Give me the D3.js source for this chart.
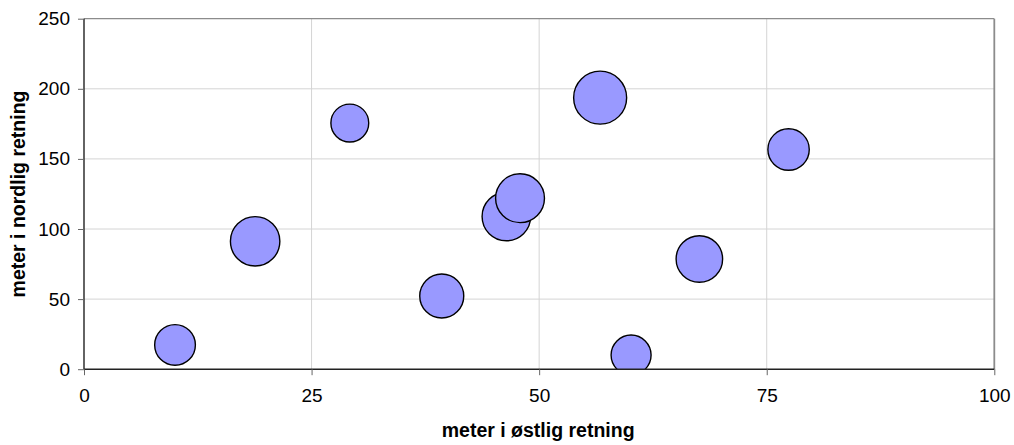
<!DOCTYPE html>
<html>
<head>
<meta charset="utf-8">
<script src="https://cdn.jsdelivr.net/npm/d3@7"></script>
<style>
  html, body { margin: 0; padding: 0; background: #fff; }
  svg { display: block; font-family: "Liberation Sans", Arial, sans-serif; }
</style>
</head>
<body>
<svg id="chart" width="1014" height="445"></svg>
<script>
// Positions in metres east / north, and bubble sizes
const east  = [10.0, 18.8, 29.2, 39.3, 46.4, 47.9, 56.7, 60.1, 67.6, 77.4];
const north = [17.3, 91.2, 175.6, 52.2, 108.9, 122.0, 193.7, 10.1, 78.6, 156.7];
const sizes = [59, 87, 51, 69, 84, 85, 100, 57, 77, 61];

const xTicks = [0, 25, 50, 75, 100];
const yTicks = [0, 50, 100, 150, 200, 250];
const xTitle = "meter i østlig retning";
const yTitle = "meter i nordlig retning";

const svg = d3.select("#chart");
const plotLeft = 84, plotRight = 994.3, plotTop = 18.7, plotBottom = 369.2;

const x = d3.scaleLinear().domain([0, 100]).range([plotLeft, plotRight]);
const y = d3.scaleLinear().domain([0, 250]).range([plotBottom, plotTop]);
const r = d3.scaleSqrt().domain([0, 100]).range([0, 26.5]);

// gridlines
svg.append("g").selectAll("line").data(yTicks.slice(1, -1)).join("line")
  .attr("x1", plotLeft).attr("x2", plotRight)
  .attr("y1", d => y(d)).attr("y2", d => y(d))
  .attr("stroke", "#d4d4d4").attr("stroke-width", 1);
svg.append("g").selectAll("line").data(xTicks.slice(1, -1)).join("line")
  .attr("y1", plotTop).attr("y2", plotBottom)
  .attr("x1", d => x(d)).attr("x2", d => x(d))
  .attr("stroke", "#d4d4d4").attr("stroke-width", 1);

// plot frame: top and right
svg.append("line").attr("x1", plotLeft).attr("x2", plotRight).attr("y1", plotTop).attr("y2", plotTop)
  .attr("stroke", "#8c8c8c").attr("stroke-width", 1.2);
svg.append("line").attr("x1", plotRight).attr("x2", plotRight).attr("y1", plotTop).attr("y2", plotBottom)
  .attr("stroke", "#8c8c8c").attr("stroke-width", 1.8);

// bubbles, clipped to the plot area
svg.append("clipPath").attr("id", "plotClip")
  .append("rect").attr("x", plotLeft).attr("y", plotTop)
  .attr("width", plotRight - plotLeft).attr("height", plotBottom - plotTop);

const pts = east.map((e, i) => ({ e, n: north[i], s: sizes[i] }));
svg.append("g").attr("clip-path", "url(#plotClip)")
  .selectAll("circle").data(pts).join("circle")
  .attr("cx", d => x(d.e)).attr("cy", d => y(d.n)).attr("r", d => r(d.s))
  .attr("fill", "#9999ff").attr("stroke", "#000").attr("stroke-width", 1.4);

// axes
const xAxis = d3.axisBottom(x).tickValues(xTicks).tickSize(6).tickPadding(13).tickFormat(d3.format("d"));
const yAxis = d3.axisLeft(y).tickValues(yTicks).tickSize(6).tickPadding(8).tickFormat(d3.format("d"));

const gx = svg.append("g").attr("transform", `translate(0,${plotBottom})`).call(xAxis);
const gy = svg.append("g").attr("transform", `translate(${plotLeft},0)`).call(yAxis);

[gx, gy].forEach(g => {
  g.select(".domain").attr("stroke", "#222").attr("stroke-width", 1.4);
  g.selectAll(".tick line").attr("stroke", "#666");
  g.selectAll(".tick text").attr("fill", "#000")
    .style("font-family", "'Liberation Sans', Arial, sans-serif").style("font-size", "19px");
});
gx.select(".domain").attr("d", `M${plotLeft},0H${plotRight}`);
gy.select(".domain").attr("d", `M0,${plotBottom}V${plotTop}`);

// axis titles
svg.append("text").attr("x", (plotLeft + plotRight) / 2 - 1).attr("y", 437)
  .attr("text-anchor", "middle").attr("font-weight", "bold").attr("font-size", 19.5)
  .text(xTitle);
svg.append("text").attr("transform", `translate(25,${(plotTop + plotBottom) / 2}) rotate(-90)`)
  .attr("text-anchor", "middle").attr("font-weight", "bold").attr("font-size", 19.5)
  .text(yTitle);
</script>
</body>
</html>
